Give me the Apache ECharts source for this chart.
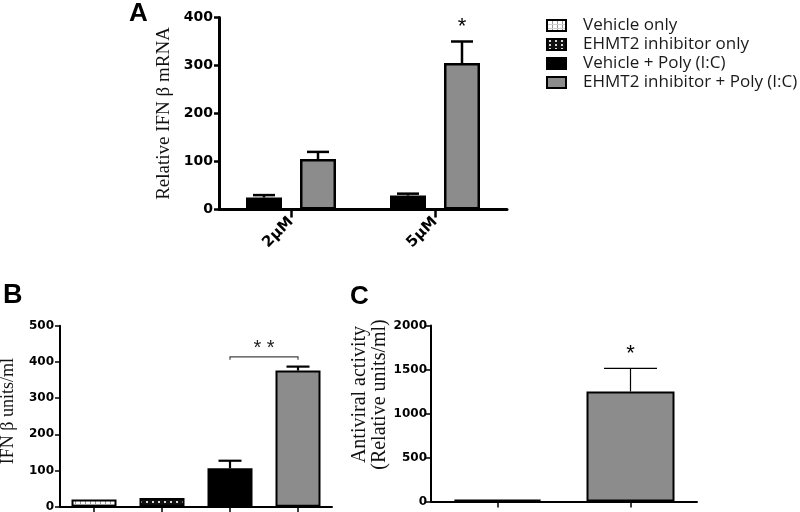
<!DOCTYPE html>
<html><head><meta charset="utf-8">
<script src="https://cdn.jsdelivr.net/npm/echarts@6/dist/echarts.min.js"></script>
<style>html,body{margin:0;padding:0;background:#fff}#c{width:800px;height:512px}</style>
</head><body><div id="c"></div>
<script>
// ---------------- DATA ----------------
const legendNames = ['Vehicle only', 'EHMT2 inhibitor only', 'Vehicle + Poly (I:C)', 'EHMT2 inhibitor + Poly (I:C)'];

// Panel A
const catsA = ['2μM', '5μM'];
const vehPolyA = [25, 29];
const vehPolyErrA = [5, 4];
const ehmtPolyA = [105, 305];
const ehmtPolyErrA = [15, 45];
const starsA = [[1, 350, '*']];           // [category index, value at error-bar top, label]

// Panel B
const catsB = legendNames;
const valuesB = [20, 24, 106, 376];
const errB = [0, 0, 21, 11];
const bracketB = [[2, 3, 414, '* *']];    // [from cat, to cat, value, label]

// Panel C
const catsC = ['Vehicle + Poly (I:C)', 'EHMT2 inhibitor + Poly (I:C)'];
const valuesC = [20, 1250];
const errC = [0, 262];
const starsC = [[1, 1512, '*']];

// axis settings
const axisA = {min: 0, max: 400, interval: 100};
const axisB = {min: 0, max: 500, interval: 100};
const axisC = {min: 0, max: 2000, interval: 500};

// ---------------- STYLE ----------------
function makePattern(w, h, draw) {
  const c = document.createElement('canvas');
  c.width = w; c.height = h;
  draw(c.getContext('2d'));
  return {image: c, repeat: 'repeat'};
}
const patVehicle = makePattern(5, 4, g => {
  g.fillStyle = '#ffffff'; g.fillRect(0, 0, 5, 4);
  g.fillStyle = '#9a9a9a'; g.fillRect(0, 0, 1, 4);
  g.fillStyle = '#d0d0d0'; g.fillRect(0, 0, 5, 1);
});
const patEhmt = makePattern(6, 4, g => {
  g.fillStyle = '#111111'; g.fillRect(0, 0, 6, 4);
  g.fillStyle = '#d8d8d8'; g.fillRect(2, 1, 2, 2);
});
const GRAY = '#8c8c8c';
const fills = [patVehicle, patEhmt, '#000000', GRAY];

const tickFont = 'DejaVu Sans';
const serif = 'Liberation Serif';

function errRender(offsetPx, capW, lw) {
  return function (params, api) {
    const e = api.value(2);
    if (!e) return null;
    const p0 = api.coord([api.value(0), api.value(1)]);
    const p1 = api.coord([api.value(0), api.value(1) + e]);
    const cx = p0[0] + offsetPx;
    const st = {stroke: '#000', lineWidth: lw};
    return {type: 'group', children: [
      {type: 'line', shape: {x1: cx, y1: p0[1], x2: cx, y2: p1[1]}, style: st},
      {type: 'line', shape: {x1: cx - capW / 2, y1: p1[1], x2: cx + capW / 2, y2: p1[1]}, style: st}
    ]};
  };
}
function starRender(arr, offsetPx, lift, size) {
  return function (params, api) {
    const p = api.coord([api.value(0), api.value(1)]);
    return {type: 'text', x: p[0] + offsetPx, y: p[1] - lift,
      style: {text: arr[params.dataIndex][2], fill: '#000', font: size + 'px "Liberation Sans"',
        textAlign: 'center', textVerticalAlign: 'middle'}};
  };
}
function bracketRender(params, api) {
  const a = api.coord([api.value(0), api.value(2)]);
  const b = api.coord([api.value(1), api.value(2)]);
  const st = {stroke: '#444', lineWidth: 1.2, fill: null};
  return {type: 'group', children: [
    {type: 'polyline', shape: {points: [[a[0], a[1] + 3], [a[0], a[1]], [b[0], b[1]], [b[0], b[1] + 3]]}, style: st},
    {type: 'text', x: (a[0] + b[0]) / 2, y: a[1] - 8,
      style: {text: bracketB[params.dataIndex][3], fill: '#222', font: '20px "Liberation Sans"',
        textAlign: 'center', textVerticalAlign: 'middle'}}
  ]};
}

function xAxisCfg(grid, data, lw, fontSize, showLabel, tickLen) {
  return {
    type: 'category', gridIndex: grid, data: data, boundaryGap: true,
    axisLine: {show: true, lineStyle: {color: '#000', width: lw}},
    axisTick: {show: true, alignWithLabel: true, length: tickLen, lineStyle: {color: '#000', width: lw - 0.5}},
    axisLabel: {show: showLabel, rotate: 45, margin: 10, color: '#000', fontFamily: tickFont, fontWeight: 'bold', fontSize: fontSize},
    splitLine: {show: false}
  };
}
function yAxisCfg(grid, ax, lw, fontSize, margin, name, nameSize, nameGap, namePad) {
  return {
    type: 'value', gridIndex: grid, min: ax.min, max: ax.max, interval: ax.interval,
    axisLine: {show: true, lineStyle: {color: '#000', width: lw}},
    axisTick: {show: true, length: 5, lineStyle: {color: '#000', width: lw - 0.5}},
    axisLabel: {show: true, margin: margin, color: '#000', fontFamily: tickFont, fontWeight: 'bold', fontSize: fontSize,
      formatter: v => String(v)},
    splitLine: {show: false},
    name: name, nameLocation: 'middle', nameGap: nameGap, nameRotate: 90,
    nameTextStyle: {fontFamily: serif, fontSize: nameSize, color: '#111', lineHeight: nameSize, padding: namePad}
  };
}
const barBorder = (fill, bw) => ({color: fill, borderColor: '#000', borderWidth: bw});

const chart = echarts.init(document.getElementById('c'), null, {renderer: 'canvas'});
const series = [];

// Panel A bars
series.push({type: 'bar', name: legendNames[2], xAxisIndex: 0, yAxisIndex: 0, data: vehPolyA,
  barWidth: 36, barGap: '50%', itemStyle: barBorder('#000', 2.5)});
series.push({type: 'bar', name: legendNames[3], xAxisIndex: 0, yAxisIndex: 0, data: ehmtPolyA,
  barWidth: 36, barGap: '50%', itemStyle: barBorder(GRAY, 2.5)});
series.push({type: 'custom', xAxisIndex: 0, yAxisIndex: 0, z: 5, encode: {x: 0, y: 1},
  data: catsA.map((c, i) => [i, vehPolyA[i], vehPolyErrA[i]]), renderItem: errRender(-27, 22, 2.5)});
series.push({type: 'custom', xAxisIndex: 0, yAxisIndex: 0, z: 5, encode: {x: 0, y: 1},
  data: catsA.map((c, i) => [i, ehmtPolyA[i], ehmtPolyErrA[i]]), renderItem: errRender(27, 22, 2.5)});
series.push({type: 'custom', xAxisIndex: 0, yAxisIndex: 0, z: 5, encode: {x: 0, y: 1},
  data: starsA.map(s => [s[0], s[1]]), renderItem: starRender(starsA, 27, 15, 22)});

// Panel B bars (one series per group so legend shows each style)
legendNames.forEach((n, k) => {
  series.push({type: 'bar', name: n, xAxisIndex: 1, yAxisIndex: 1,
    data: valuesB.map((v, i) => i === k ? v : '-'),
    barWidth: 45, barGap: '-100%', itemStyle: barBorder(fills[k], 2)});
});
series.push({type: 'custom', xAxisIndex: 1, yAxisIndex: 1, z: 5, encode: {x: 0, y: 1},
  data: valuesB.map((v, i) => [i, v, errB[i]]), renderItem: errRender(0, 23, 2.2)});
series.push({type: 'custom', xAxisIndex: 1, yAxisIndex: 1, z: 5, encode: {x: [0, 1], y: 2},
  data: bracketB.map(b => [b[0], b[1], b[2]]), renderItem: bracketRender});

// Panel C bars
[2, 3].forEach((k, j) => {
  series.push({type: 'bar', name: legendNames[k], xAxisIndex: 2, yAxisIndex: 2,
    data: valuesC.map((v, i) => i === j ? v : '-'),
    barWidth: 88, barGap: '-100%', itemStyle: barBorder(fills[k], 2)});
});
series.push({type: 'custom', xAxisIndex: 2, yAxisIndex: 2, z: 5, encode: {x: 0, y: 1},
  data: valuesC.map((v, i) => [i, v, errC[i]]), renderItem: errRender(0, 53, 1.2)});
series.push({type: 'custom', xAxisIndex: 2, yAxisIndex: 2, z: 5, encode: {x: 0, y: 1},
  data: starsC.map(s => [s[0], s[1]]), renderItem: starRender(starsC, 0, 15, 22)});

const option = {
  animation: false,
  backgroundColor: '#fff',
  title: [
    {text: 'A', left: 129, top: 1, padding: 0, textStyle: {fontFamily: 'Liberation Sans', fontWeight: 'bold', fontSize: 26, color: '#000'}},
    {text: 'B', left: 3, top: 282, padding: 0, textStyle: {fontFamily: 'Liberation Sans', fontWeight: 'bold', fontSize: 27, color: '#000'}},
    {text: 'C', left: 350, top: 284, padding: 0, textStyle: {fontFamily: 'Liberation Sans', fontWeight: 'bold', fontSize: 26, color: '#000'}}
  ],
  legend: {
    orient: 'vertical', left: 541, top: 12, itemWidth: 19, itemHeight: 11, itemGap: 2,
    icon: 'rect', selectedMode: false,
    textStyle: {fontFamily: 'Open Sans', fontSize: 17, lineHeight: 15, color: '#1a1a1a', padding: [0, 0, 0, 12]},
    data: legendNames.map((n, k) => ({name: n, icon: 'rect',
      itemStyle: {color: fills[k], borderColor: '#000', borderWidth: 2}}))
  },
  grid: [
    {left: 219, top: 17.5, width: 288, height: 192, containLabel: false, outerBoundsMode: 'none'},
    {left: 60, top: 325.7, width: 272, height: 181, containLabel: false, outerBoundsMode: 'none'},
    {left: 431, top: 325.5, width: 266, height: 176, containLabel: false, outerBoundsMode: 'none'}
  ],
  xAxis: [
    xAxisCfg(0, catsA, 3, 15, true, 8),
    xAxisCfg(1, catsB, 2, 12, false, 6),
    xAxisCfg(2, catsC, 2, 11, false, 6)
  ],
  yAxis: [
    yAxisCfg(0, axisA, 3, 14, 6, 'Relative IFN β mRNA', 19, 45, 0),
    yAxisCfg(1, axisB, 2, 12, 6, 'IFN β units/ml', 18, 43, [0, 0, 0, 10]),
    yAxisCfg(2, axisC, 2, 12, 4, 'Antiviral activity\n(Relative units/ml)', 20, 39, [0, 0, 0, 38])
  ],
  series: series
};
chart.setOption(option);
</script>
</body></html>
